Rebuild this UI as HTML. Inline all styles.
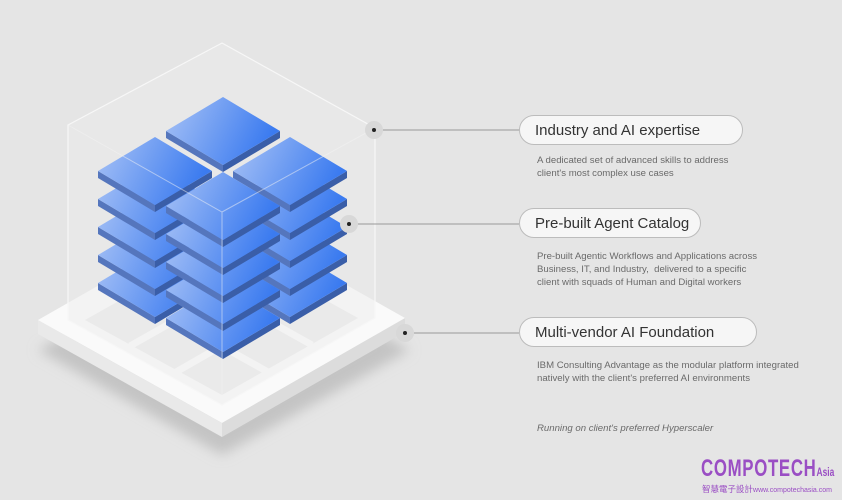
<!DOCTYPE html>
<html><head><meta charset="utf-8"><style>
html,body{margin:0;padding:0;background:#e5e5e5;}
body{width:842px;height:500px;overflow:hidden;position:relative;font-family:"Liberation Sans","Noto Sans CJK TC",sans-serif;}
.pill{position:absolute;left:519px;height:30px;border:1px solid #bcbcbc;border-radius:16px;background:#f6f6f6;font-size:15px;color:#333;line-height:29px;padding:0 15px;box-sizing:border-box;white-space:nowrap;}
.d{position:absolute;left:537px;font-size:9.6px;color:#6a6a6a;line-height:13px;white-space:nowrap;}
</style></head><body>
<svg width="842" height="500" style="position:absolute;left:0;top:0">
<defs>
<linearGradient id="g" x1="0" y1="0" x2="1" y2="0.3"><stop offset="0" stop-color="#a9c3f5"/><stop offset="1" stop-color="#3b7bf0"/></linearGradient>
<g id="t"><polygon points="0,34 57,68 57,75 0,41" fill="#5576bd"/><polygon points="114,34 57,68 57,75 114,41" fill="#3a5ea8"/><polygon points="57,0 114,34 57,68 0,34" fill="url(#g)"/></g>
<filter id="b"><feGaussianBlur stdDeviation="6"/></filter>
</defs>
<polygon points="38,350 222,250 410,350 222,455" fill="#c4c4c4" filter="url(#b)"/>
<polygon points="38,320 38,334 222,437 222,423" fill="#e9e9e9"/>
<polygon points="405,318 405,332 222,437 222,423" fill="#dcdcdc"/>
<polygon points="38,320 222,215 405,318 222,423" fill="#fafafa"/>
<polygon points="85,320 222,243 358,318 222,395" fill="#e8e8e8"/>
<g stroke="#fafafa" stroke-width="7"><line x1="130" y1="295" x2="268" y2="372"/><line x1="176" y1="269" x2="312" y2="345"/><line x1="130" y1="346" x2="268" y2="268"/><line x1="176" y1="372" x2="312" y2="294"/></g>
<polygon points="68,125 222,43 375,128 375,318 222,405 68,320" fill="#ececec" fill-opacity="0.5" stroke="#f7f7f7" stroke-width="1.2"/>
<use href="#t" x="166" y="97"/>
<g><use href="#t" x="98" y="249"/><use href="#t" x="98" y="221"/><use href="#t" x="98" y="193"/><use href="#t" x="98" y="165"/><use href="#t" x="98" y="137"/></g>
<g><use href="#t" x="233" y="249"/><use href="#t" x="233" y="221"/><use href="#t" x="233" y="193"/><use href="#t" x="233" y="165"/><use href="#t" x="233" y="137"/></g>
<g><use href="#t" x="166" y="284"/><use href="#t" x="166" y="256"/><use href="#t" x="166" y="228"/><use href="#t" x="166" y="200"/><use href="#t" x="166" y="172"/></g>
<g stroke="#f4f4f4" stroke-width="1" fill="none" opacity="0.5"><polyline points="68,125 222,212 375,128"/><line x1="222" y1="212" x2="222" y2="405"/></g>
<g stroke="#999" stroke-width="1"><line x1="374" y1="130" x2="519" y2="130"/><line x1="349" y1="224" x2="519" y2="224"/><line x1="405" y1="333" x2="519" y2="333"/></g>
<g fill="#d8d8d8"><circle cx="374" cy="130" r="9"/><circle cx="349" cy="224" r="9"/><circle cx="405" cy="333" r="9"/></g>
<g fill="#222"><circle cx="374" cy="130" r="2"/><circle cx="349" cy="224" r="2"/><circle cx="405" cy="333" r="2"/></g>
</svg>
<div class="pill" style="top:115px;width:224px">Industry and AI expertise</div>
<div class="d" style="top:154px">A dedicated set of advanced skills to address<br>client's most complex use cases</div>
<div class="pill" style="top:208px;width:182px">Pre-built Agent Catalog</div>
<div class="d" style="top:250px">Pre-built Agentic Workflows and Applications across<br>Business, IT, and Industry,&nbsp; delivered to a specific<br>client with squads of Human and Digital workers</div>
<div class="pill" style="top:317px;width:238px">Multi-vendor AI Foundation</div>
<div class="d" style="top:359px">IBM Consulting Advantage as the modular platform integrated<br>natively with the client's preferred AI environments</div>
<div class="d" style="top:422px;font-style:italic">Running on client's preferred Hyperscaler</div>
<div style="position:absolute;left:701px;top:456px;color:#9a4ec4;font-weight:bold;font-size:24px;line-height:25px;transform:scaleX(0.7);transform-origin:left;letter-spacing:1px;white-space:nowrap">COMPOTECH<span style="font-size:12px;letter-spacing:0">Asia</span></div>
<div style="position:absolute;left:702px;top:484px;color:#9a4ec4;font-size:8.5px;line-height:10px;white-space:nowrap">智慧電子設計<span style="font-size:7px">www.compotechasia.com</span></div>
</body></html>
